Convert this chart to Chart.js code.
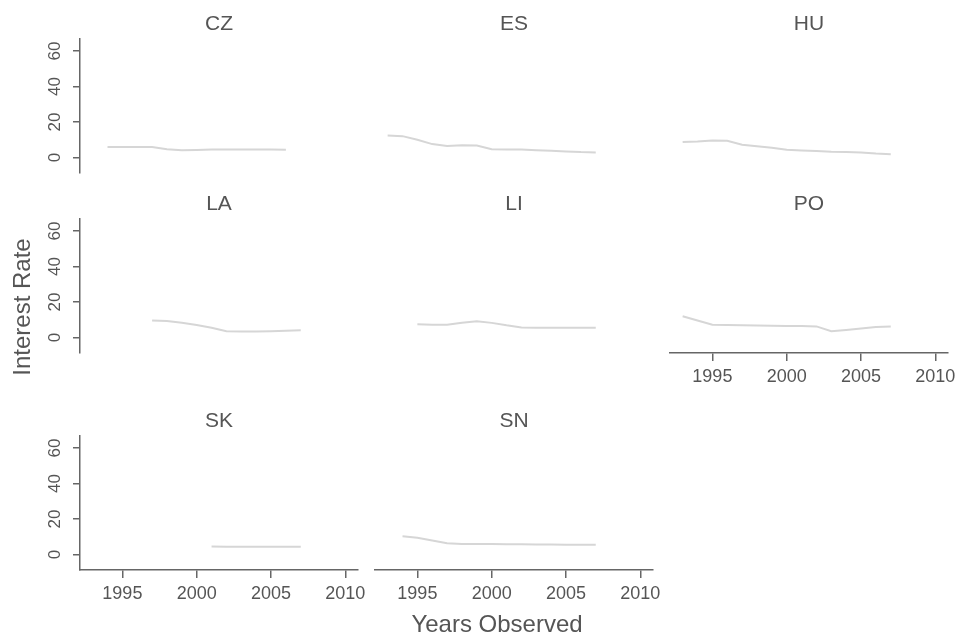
<!DOCTYPE html>
<html><head><meta charset="utf-8">
<script src="https://cdn.jsdelivr.net/npm/chart.js@4.4.1/dist/chart.umd.min.js"></script>
<style>
html,body{margin:0;padding:0;background:#fff;}
body{width:960px;height:644px;position:relative;overflow:hidden;font-family:"Liberation Sans",Arial,Helvetica,sans-serif;}
canvas{position:absolute;}
.t{position:absolute;color:#555;text-align:center;white-space:nowrap;}
</style></head><body>
<script>
// ---- data ----
const years = [1993,1994,1995,1996,1997,1998,1999,2000,2001,2002,2003,2004,2005,2006,2007];
const CZ = [null,5.9,5.8,5.8,5.8,4.6,4.0,4.2,4.4,4.5,4.5,4.5,4.4,4.3,null];
const ES = [12.4,12.0,10.0,7.5,6.5,6.8,6.7,4.6,4.5,4.4,4.0,3.7,3.4,3.0,2.8];
const HU = [8.7,9.0,9.5,9.4,7.2,6.3,5.5,4.3,3.9,3.6,3.2,3.0,2.8,2.2,1.8];
const LA = [null,null,null,null,9.6,9.2,8.3,7.0,5.5,3.5,3.3,3.3,3.5,3.8,4.0];
const LI = [null,null,7.4,7.2,7.2,8.3,9.1,8.2,6.8,5.6,5.5,5.5,5.5,5.5,5.5];
const PO = [11.9,9.5,7.2,7.0,6.8,6.7,6.6,6.5,6.4,6.2,3.5,4.2,5.0,5.8,6.2];
const SK = [null,null,null,null,null,null,null,null,4.4,4.3,4.3,4.3,4.3,4.3,4.3];
const SN = [null,10.2,9.4,7.8,6.3,5.9,5.8,5.8,5.7,5.7,5.6,5.6,5.5,5.5,5.4];
const countries = ['CZ','ES','HU','LA','LI','PO','SK','SN'];
const seriesByCountry = {CZ, ES, HU, LA, LI, PO, SK, SN};
const yTicks = [0,20,40,60];
const xTicks = [1995,2000,2005,2010];
const yLabel = 'Interest Rate';
const xLabel = 'Years Observed';

// ---- layout ----
const colLeft = [80,375,670];
const rowTop = [39,219,436];
const PW = 278, PH = 134;
const padL = 70, padR = 30, padT = 10, padB = 50;
const xAxisH = 45;
const showX = {PO:true, SK:true, SN:true};
const TXT = '#555', AX = '#666', FONT = '"Liberation Sans", Arial, Helvetica, sans-serif';
Chart.defaults.font.family = FONT;
Chart.defaults.color = TXT;

const yLabelPlugin = {
  id: 'yLabels',
  afterDraw(chart, args, opts) {
    if (!opts.show) return;
    const s = chart.scales.y, ctx = chart.ctx;
    ctx.save();
    ctx.fillStyle = TXT;
    ctx.font = '17px ' + FONT;
    ctx.textAlign = 'center';
    ctx.textBaseline = 'middle';
    s.ticks.forEach(t => {
      const py = s.getPixelForValue(t.value);
      ctx.save();
      ctx.translate(chart.chartArea.left - 24.5, py);
      ctx.rotate(-Math.PI / 2);
      ctx.fillText(String(t.value), 0, 0);
      ctx.restore();
    });
    ctx.restore();
  }
};

function addText(txt, left, top, width, size, rot) {
  const d = document.createElement('div');
  d.className = 't';
  d.textContent = txt;
  d.style.left = left + 'px';
  d.style.top = top + 'px';
  d.style.width = width + 'px';
  d.style.fontSize = size + 'px';
  d.style.lineHeight = size + 'px';
  if (rot) d.style.transform = 'rotate(-90deg)';
  document.body.appendChild(d);
}

countries.forEach((c, i) => {
  const col = i % 3, row = Math.floor(i / 3);
  const L = colLeft[col], T = rowTop[row];
  const cv = document.createElement('canvas');
  const W = PW + padL + padR, H = PH + padT + padB;
  cv.width = W; cv.height = H;
  cv.style.width = W + 'px'; cv.style.height = H + 'px';
  cv.style.left = (L - padL) + 'px';
  cv.style.top = (T - padT) + 'px';
  document.body.appendChild(cv);
  const vals = seriesByCountry[c];
  const pts = years.map((y, k) => ({x: y, y: vals[k]})).filter(p => p.y !== null);
  const hasY = col === 0;
  const hasX = !!showX[c];
  new Chart(cv, {
    type: 'line',
    data: {datasets: [{data: pts, borderColor: '#d6d6d6', borderWidth: 2, pointRadius: 0, tension: 0, fill: false}]},
    options: {
      responsive: false, animation: false, devicePixelRatio: 1,
      layout: {padding: {left: padL, right: padR, top: padT, bottom: hasX ? padB - xAxisH : padB}},
      plugins: {legend: {display: false}, tooltip: {enabled: false}, title: {display: false}, yLabels: {show: hasY}},
      scales: {
        x: {
          type: 'linear', min: 1992.15, max: 2010.85, display: hasX,
          afterBuildTicks: s => { s.ticks = xTicks.map(v => ({value: v})); },
          afterFit: s => { s.height = hasX ? xAxisH : 0; },
          grid: {drawOnChartArea: false, drawTicks: true, tickLength: 8, color: AX, lineWidth: 1.5},
          border: {display: true, color: AX, width: 1.5},
          ticks: {autoSkip: false, maxRotation: 0, minRotation: 0, padding: 5, color: TXT, font: {size: 18}, callback: v => String(v)}
        },
        y: {
          type: 'linear', min: -8.8, max: 66.8, display: hasY,
          afterBuildTicks: s => { s.ticks = yTicks.map(v => ({value: v})); },
          afterFit: s => { s.width = 0; },
          grid: {drawOnChartArea: false, drawTicks: true, tickLength: 7, color: AX, lineWidth: 1.5},
          border: {display: true, color: AX, width: 1.5},
          ticks: {display: false}
        }
      }
    },
    plugins: [yLabelPlugin]
  });
  addText(c, L, T - 17 - 10.3, PW, 21, false);
});

addText(xLabel, 497 - 150, 612, 300, 24, false);
addText(yLabel, 22 - 150, 307 - 12, 300, 24, true);
</script>
</body></html>
